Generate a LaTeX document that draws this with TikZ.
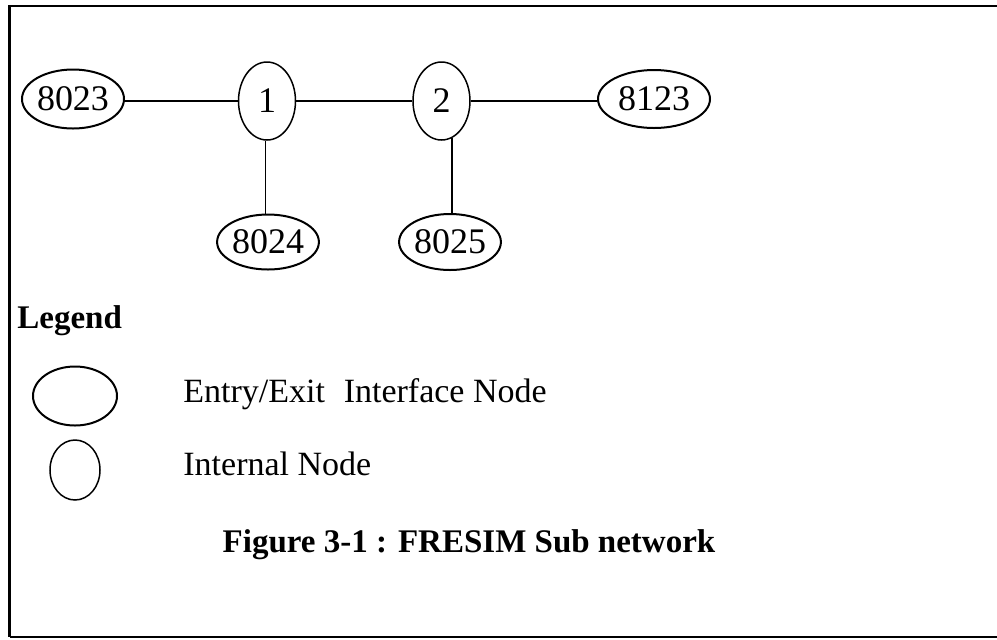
\documentclass[tikz,border=0pt]{standalone}
\usepackage{fontspec}
\setmainfont{Liberation Serif}
\usetikzlibrary{shapes.geometric}
\begin{document}
\begin{tikzpicture}[x=0.5pt,y=-0.5pt,
  entry/.style={draw, ellipse, line width=1pt, inner sep=0pt, font=\fontsize{18}{21}\selectfont},
  internal/.style={draw, ellipse, line width=0.75pt, inner sep=0pt, font=\fontsize{18}{21}\selectfont},
  link/.style={line width=0.7pt},
  lbl/.style={anchor=base west, inner sep=0pt, font=\fontsize{17}{20}\selectfont},
  bold/.style={inner sep=0pt, font=\fontsize{16.5}{19}\selectfont\bfseries}]
\useasboundingbox (0,0) rectangle (997,639);
% frame
\draw[line width=1.3pt] (997,6) -- (9.5,6);
\draw[line width=1.5pt] (9.5,5.3) -- (9.5,637);
\draw[line width=0.8pt] (9.5,637) -- (997,637);
% network nodes
\node[entry, minimum width=51pt, minimum height=29.5pt] (e8023) at (73,99) {8023};
\node[internal, minimum width=28.5pt, minimum height=39pt] (n1) at (267,101) {1};
\node[internal, minimum width=28.5pt, minimum height=39pt] (n2) at (441.5,101) {2};
\node[entry, minimum width=56pt, minimum height=29pt] (e8123) at (654,99) {8123};
\node[entry, minimum width=49pt, minimum height=27.5pt] (e8024) at (268,242) {8024};
\node[entry, minimum width=47pt, minimum height=28pt] (e8025) at (450,242) {8025};
% connectors
\draw[link] (e8023.east |- n1.west) -- (n1.west);
\draw[link] (n1.east) -- (n2.west);
\draw[link] (n2.east) -- (e8123.west |- n2.east);
\draw[link] (n1.-92) -- (n1.-92 |- e8024.north);
\draw[link] (n2.-74) -- (n2.-74 |- e8025.north);
% legend
\node[bold, anchor=base west] (legend) at (17,328) {Legend};
\node[draw, ellipse, line width=1pt, minimum width=42pt, minimum height=29.5pt, inner sep=0pt] (lentry) at (75,396) {};
\node[draw, ellipse, line width=0.75pt, minimum width=25pt, minimum height=30pt, inner sep=0pt] (lint) at (75,470) {};
\node[lbl] (tentry) at (183,402) {Entry/Exit\hspace{0.55em}Interface Node};
\node[lbl] (tint) at (183,475) {Internal Node};
\node[bold, anchor=base] (caption) at (469,552) {Figure 3-1 : FRESIM Sub network};
\end{tikzpicture}
\end{document}
